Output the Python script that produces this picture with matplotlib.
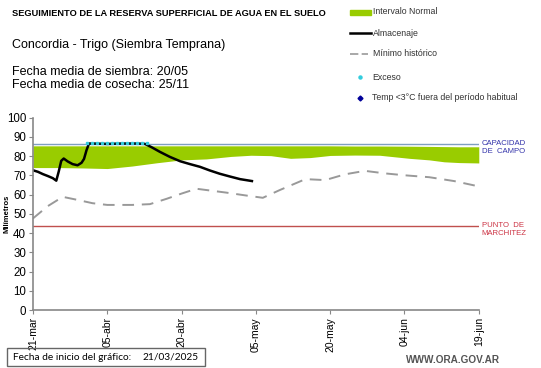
import numpy as np
import matplotlib.pyplot as plt
from matplotlib.lines import Line2D
from matplotlib.patches import Rectangle

plt.rcParams['font.family'] = ['Liberation Sans', 'DejaVu Sans']

# días desde 21/03/2025
tick_days = [0, 15, 30, 45, 60, 75, 90]
tick_labels = ['21-mar', '05-abr', '20-abr', '05-may', '20-may', '04-jun', '19-jun']

# intervalo normal (banda verde)
banda_dias = [0, 5, 10, 15, 20, 25, 30, 35, 40, 44, 48, 52, 56, 60, 65, 70, 76, 80, 83, 86, 90]
banda_inf = [74, 74, 73.8, 73.5, 74.8, 76.5, 78, 78.5, 79.8, 80.4, 80.2, 78.8, 79.2, 80.3, 80.5, 80.4, 78.8, 78, 77, 76.6, 76.4]
banda_sup = [85.3, 85.3, 85.3, 85.3, 85.3, 85.3, 85.3, 85.3, 85.3, 85.3, 85.3, 85.3, 85.3, 85.3, 85.2, 85.2, 85.1, 85, 84.9, 84.8, 84.8]

# almacenaje
alm_dias = [0, 1, 2, 3, 4, 4.7, 5.2, 5.7, 6.2, 7, 8, 9, 9.8, 10.3, 10.8, 11.3, 12, 15, 18, 21, 22.6, 24, 25.6, 27.6, 29.7, 31.7, 33.7, 35.7, 37.7, 39.7, 41.8, 44.2]
alm_val = [72.6, 71.8, 70.6, 69.6, 68.5, 67.2, 72, 77.5, 78.7, 77.2, 75.8, 75.2, 76.5, 78.5, 83, 86.5, 86.5, 86.3, 86.5, 86.5, 86.3, 84.5, 82.2, 79.6, 77.3, 75.8, 74.4, 72.5, 70.8, 69.4, 68, 67]

# exceso
exc_dias = [11, 12, 13, 14, 15, 16, 17, 18, 19, 20, 21, 22, 23]
exc_val = [86.8] * 13

# mínimo histórico
min_dias = [0, 3, 6, 9, 12, 15, 20, 23.6, 27, 30, 33, 36, 39, 43, 46.4, 49.8, 55, 59, 63, 67, 71, 75, 80, 85, 89.5]
min_val = [47.6, 54, 58.8, 57.2, 55.5, 54.6, 54.6, 55, 57.8, 60.5, 63, 62, 61, 59.5, 58.3, 62.3, 68, 67.5, 70.5, 72.3, 71, 70, 69, 67, 64.5]

capacidad = 86
marchitez = 43.6

verde = '#99cc00'

fig = plt.figure(figsize=(5.41, 3.68), dpi=100)
ax = fig.add_axes([0.061, 0.1576, 0.824, 0.523])

ax.fill_between(banda_dias, banda_inf, banda_sup, color=verde, lw=0)
ax.axhline(capacidad, color='#7f9fc0', lw=1)
ax.axhline(marchitez, color='#c0504d', lw=1)
ax.plot(min_dias, min_val, color='#999999', lw=1.4, dashes=(6, 4))
ax.plot(alm_dias, alm_val, color='black', lw=1.8)
ax.plot(exc_dias, exc_val, ls='none', marker='s', ms=2, color='#33ccdd')

ax.set_xlim(0, 90)
ax.set_ylim(0, 100)
ax.set_yticks(range(0, 101, 10))
ax.set_xticks(tick_days)
ax.set_xticklabels(tick_labels, rotation=90, fontsize=7.5)
ax.tick_params(axis='y', labelsize=8.3, length=3, color='#888888', pad=2)
ax.tick_params(axis='x', length=3, color='#888888', pad=2)
for s in ['top', 'right']:
    ax.spines[s].set_visible(False)
for s in ['left', 'bottom']:
    ax.spines[s].set_color('#888888')
    ax.spines[s].set_linewidth(1.2)
ax.set_ylabel('Milímetros', fontsize=5.5, fontweight='bold')
ax.yaxis.set_label_coords(-0.05, 0.5)

ax.text(90.6, capacidad + 2.2, 'CAPACIDAD\nDE  CAMPO', color='#3333aa', fontsize=5.6,
        va='top', ha='left', linespacing=1.15, clip_on=False)
ax.text(90.6, marchitez + 2.2, 'PUNTO  DE\nMARCHITEZ', color='#cc3344', fontsize=5.6,
        va='top', ha='left', linespacing=1.15, clip_on=False)

# textos de cabecera
fig.text(12 / 541, 1 - 14 / 368, 'SEGUIMIENTO DE LA RESERVA SUPERFICIAL DE AGUA EN EL SUELO',
         fontsize=6.65, fontweight='bold', va='center')
fig.text(12 / 541, 1 - 45 / 368, 'Concordia - Trigo (Siembra Temprana)', fontsize=9, va='center')
fig.text(12 / 541, 1 - 72 / 368, 'Fecha media de siembra: 20/05', fontsize=9, va='center')
fig.text(12 / 541, 1 - 85 / 368, 'Fecha media de cosecha: 25/11', fontsize=9, va='center')

# leyenda manual
def fy(p):
    return 1 - p / 368

def fx(p):
    return p / 541

fig.patches.append(Rectangle((fx(350), fy(15)), fx(21), 5 / 368, color=verde, transform=fig.transFigure))
fig.lines.append(Line2D([fx(350), fx(371)], [fy(33), fy(33)], color='black', lw=1.8, transform=fig.transFigure))
fig.lines.append(Line2D([fx(350), fx(368)], [fy(54), fy(54)], color='#999999', lw=1.2, dashes=(5, 2), transform=fig.transFigure))
fig.lines.append(Line2D([fx(360)], [fy(77)], ls='none', marker='o', ms=2.2, color='#33ccdd', transform=fig.transFigure))
fig.lines.append(Line2D([fx(360)], [fy(98)], ls='none', marker='D', ms=2.5, color='#000099', transform=fig.transFigure))
leg = ['Intervalo Normal', 'Almacenaje', 'Mínimo histórico', 'Exceso', 'Temp <3°C fuera del período habitual']
leg_y = [12, 33, 54, 77, 98]
leg_x = [373, 373, 373, 372, 372]
for t, yy, xx in zip(leg, leg_y, leg_x):
    fig.text(fx(xx), fy(yy), t, fontsize=6.3, color='#333333', va='center')

# pie
fig.patches.append(Rectangle((fx(7), fy(366)), fx(198), 18 / 368, fill=False, ec='#666666', lw=1, transform=fig.transFigure))
fig.text(fx(13), fy(357), 'Fecha de inicio del gráfico:', fontsize=7.3, va='center', family=['Lato', 'DejaVu Sans'])
fig.text(fx(143), fy(357), '21/03/2025', fontsize=7.3, va='center', family=['Lato', 'DejaVu Sans'])
fig.text(fx(500), fy(360), 'WWW.ORA.GOV.AR', fontsize=7.2, fontweight='bold', color='#555555', va='center', ha='right')

fig.savefig('out.png', dpi=100)
